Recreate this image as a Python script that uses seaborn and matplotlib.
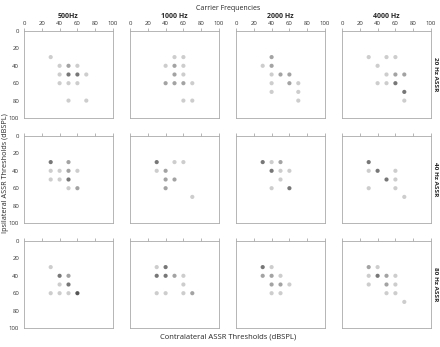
import matplotlib

matplotlib.use("Agg")
import matplotlib.pyplot as plt
import pandas as pd
import seaborn as sns

freqs = ["500Hz", "1000 Hz", "2000 Hz", "4000 Hz"]
rates = ["20 Hz ASSR", "40 Hz ASSR", "80 Hz ASSR"]
ticks = [0, 20, 40, 60, 80, 100]

# (contralateral, ipsilateral, number of overlapping subjects)
r20_500 = [(30, 30, 1), (40, 40, 1), (50, 40, 2), (60, 40, 1), (40, 50, 1), (50, 50, 3),
           (60, 50, 3), (70, 50, 1), (40, 60, 1), (50, 60, 1), (60, 60, 1), (50, 80, 1), (70, 80, 1)]
r20_1000 = [(50, 30, 1), (60, 30, 1), (40, 40, 1), (50, 40, 2), (60, 40, 1), (50, 50, 2),
            (60, 50, 1), (40, 60, 2), (50, 60, 2), (60, 60, 2), (70, 60, 1), (60, 80, 1), (70, 80, 1)]
r20_2000 = [(40, 30, 2), (30, 40, 1), (40, 40, 2), (40, 50, 1), (50, 50, 2), (60, 50, 2),
            (40, 60, 1), (60, 60, 2), (70, 60, 1), (40, 70, 1), (70, 70, 1), (70, 80, 1)]
r20_4000 = [(30, 30, 1), (50, 30, 1), (60, 30, 1), (40, 40, 1), (50, 50, 1), (60, 50, 2),
            (70, 50, 2), (40, 60, 1), (50, 60, 1), (60, 60, 3), (70, 70, 3), (70, 80, 1)]
r40_500 = [(30, 30, 3), (50, 30, 2), (30, 40, 1), (40, 40, 1), (50, 40, 2), (60, 40, 1),
           (30, 50, 1), (40, 50, 1), (50, 50, 3), (50, 60, 1), (60, 60, 2)]
r40_1000 = [(30, 30, 3), (50, 30, 1), (60, 30, 1), (30, 40, 1), (40, 40, 2), (40, 50, 2),
            (50, 50, 2), (40, 60, 2), (70, 70, 1)]
r40_2000 = [(30, 30, 3), (40, 30, 1), (50, 30, 2), (40, 40, 3), (50, 40, 1), (60, 40, 1),
            (50, 50, 1), (40, 60, 1), (60, 60, 3)]
r40_4000 = [(30, 30, 3), (30, 40, 1), (40, 40, 3), (60, 40, 1), (50, 50, 3), (60, 50, 1),
            (30, 60, 1), (60, 60, 1), (70, 70, 1)]
r80_500 = [(30, 30, 1), (40, 40, 3), (50, 40, 2), (40, 50, 1), (50, 50, 3), (30, 60, 1),
           (40, 60, 1), (50, 60, 1), (60, 60, 4)]
r80_1000 = [(30, 30, 1), (40, 30, 3), (30, 40, 3), (40, 40, 3), (50, 40, 2), (60, 40, 1),
            (60, 50, 1), (30, 60, 1), (40, 60, 1), (60, 60, 1), (70, 60, 2)]
r80_2000 = [(30, 30, 3), (40, 30, 1), (30, 40, 2), (40, 40, 2), (50, 40, 1), (40, 50, 2),
            (50, 50, 2), (60, 50, 1), (40, 60, 1), (50, 60, 1)]
r80_4000 = [(30, 30, 2), (40, 30, 1), (30, 40, 1), (40, 40, 3), (50, 40, 2), (60, 40, 1),
            (30, 50, 1), (50, 50, 2), (60, 50, 1), (50, 60, 1), (60, 60, 1), (70, 70, 1)]

panels = [
    [r20_500, r20_1000, r20_2000, r20_4000],
    [r40_500, r40_1000, r40_2000, r40_4000],
    [r80_500, r80_1000, r80_2000, r80_4000],
]

shades = {1: "#cdcdcd", 2: "#a3a3a3", 3: "#777777", 4: "#555555"}

sns.set_style("white")
plt.rcParams["font.family"] = ["Open Sans", "DejaVu Sans"]

fig = plt.figure(figsize=(4.4, 3.47), dpi=100)
W, H = 440, 347
lefts = [24, 130, 236, 342]
tops = [31, 136, 241]
aw, ah = 89, 87

for r, rate in enumerate(rates):
    for c, freq in enumerate(freqs):
        ax = fig.add_axes([lefts[c] / W, 1 - (tops[r] + ah) / H, aw / W, ah / H])
        df = pd.DataFrame(panels[r][c], columns=["contra", "ipsi", "n"])
        sns.scatterplot(data=df, x="contra", y="ipsi", hue="n", palette=shades,
                        s=9, linewidth=0, legend=False, ax=ax)
        ax.set_xlim(0, 100)
        ax.set_ylim(100, 0)
        ax.set_xticks(ticks)
        ax.set_yticks(ticks)
        ax.xaxis.tick_top()
        ax.set_xlabel("")
        ax.set_ylabel("")
        ax.tick_params(length=2, width=0.5, color="#999999", labelsize=4.3,
                       labelcolor="#333333", pad=1.5)
        if r > 0:
            ax.set_xticklabels([])
        if c > 0:
            ax.set_yticklabels([])
        for sp in ax.spines.values():
            sp.set_color("#aaaaaa")
            sp.set_linewidth(0.6)
        if r == 0:
            ax.set_title(freq, fontsize=5, fontweight="bold", pad=9)
        if c == 3:
            ax.text(1.055, 0.5, rate, transform=ax.transAxes, rotation=270,
                    fontsize=4.6, fontweight="bold", ha="center", va="center")

fig.text(228 / W, 1 - 9 / H, "Carrier Frequencies", fontsize=5, ha="center", va="center")
fig.text(5.5 / W, 0.5, "Ipsilateral ASSR Thresholds (dBSPL)", fontsize=5.2,
         rotation=90, ha="center", va="center")
fig.text(228 / W, 1 - 337 / H, "Contralateral ASSR Thresholds (dBSPL)", fontsize=5.5,
         ha="center", va="center")

fig.savefig("out.png", dpi=100)
